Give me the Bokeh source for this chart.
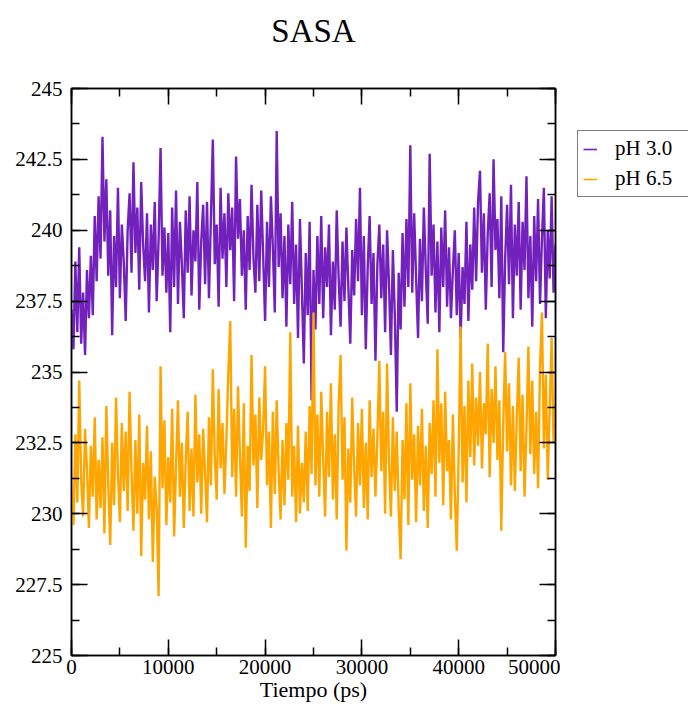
from bokeh.plotting import figure
from bokeh.layouts import row
from bokeh.models import (Legend, LegendItem, LinearAxis, SingleIntervalTicker,
                          CustomJSTickFormatter, Range1d, ColumnDataSource)
from bokeh.embed import file_html
from bokeh.resources import INLINE

# ---- data (one value every 200 ps) ----
time_start = 0
time_step = 200

sasa_ph30 = [
    237.2, 235.8, 238.9, 236.4, 239.4, 236.0, 237.8, 235.6, 238.6, 236.9,
    239.1, 237.0, 240.5, 238.2, 241.2, 239.0, 243.3, 239.6, 241.8, 238.4,
    240.7, 236.3, 239.8, 238.0, 241.5, 237.6, 240.2, 238.9, 236.8, 240.0,
    241.3, 238.5, 242.4, 239.2, 240.8, 237.9, 241.7, 239.5, 238.2, 240.6,
    237.1, 240.2, 238.6, 241.0, 237.5, 239.7, 242.9, 238.4, 240.1, 237.8,
    239.9, 236.4, 240.8, 238.0, 241.4, 237.4, 240.3, 238.8, 236.9, 240.7,
    238.5, 241.2, 237.7, 240.0, 238.9, 241.7, 237.2, 239.6, 240.9, 238.1,
    241.0, 237.6, 240.4, 243.2, 238.8, 240.2, 237.3, 241.5, 239.0, 240.6,
    238.0, 241.3, 239.3, 240.8, 237.5, 242.6, 239.7, 241.1, 238.4, 240.0,
    237.2, 240.5, 238.6, 241.6, 239.0, 237.8, 240.9, 238.2, 241.4, 239.1,
    236.8, 240.3, 238.0, 241.2, 239.4, 237.1, 243.5, 238.7, 240.6, 237.6,
    239.8, 236.6, 240.2, 238.1, 241.0, 237.4, 239.5, 236.2, 240.4, 237.9,
    235.3, 239.2, 237.0, 240.3, 234.0, 238.6, 236.5, 239.8, 237.4, 240.5,
    236.9, 239.4, 238.0, 240.2, 236.3, 238.9, 237.2, 240.7, 238.3, 236.6,
    239.6, 237.5, 240.1, 238.0, 236.0, 239.3, 237.7, 240.4, 238.2, 241.5,
    237.0, 239.8, 235.8, 238.7, 240.5, 237.4, 239.2, 235.4, 238.8, 240.2,
    237.6, 239.5, 236.4, 240.0, 238.1, 235.6, 239.3, 237.0, 233.6, 238.5,
    236.5, 239.9, 237.3, 240.4, 238.0, 243.0, 237.8, 240.6, 238.3, 236.2,
    239.7, 237.5, 240.8, 238.6, 236.7, 242.7, 238.4, 240.2, 237.1, 239.6,
    236.4, 240.1, 238.0, 240.7, 237.3, 239.4, 236.9, 238.6, 240.0, 237.0,
    239.2, 236.2, 238.7, 237.4, 240.3, 236.8, 239.5, 237.9, 240.8, 238.2,
    241.0, 242.1, 238.5, 240.6, 237.2, 239.9, 241.3, 238.0, 242.5, 239.3,
    240.4, 237.6, 241.2, 235.7, 239.0, 240.9, 238.1, 241.6, 236.9, 240.2,
    238.4, 241.0, 237.2, 240.3, 238.6, 241.9, 237.6, 239.8, 236.6, 240.5,
    238.2, 241.1, 237.4, 239.7, 241.5, 236.9, 240.0, 238.3, 241.2, 237.8,
    239.5,
]

sasa_ph65 = [
    230.9, 229.6, 232.8, 230.4, 234.7, 231.2, 229.9, 233.0, 231.6, 229.5,
    232.4, 230.6, 233.4, 229.8, 231.9, 230.2, 232.7, 229.3, 233.8, 231.0,
    228.9, 232.5, 230.3, 234.1, 231.4, 229.7, 233.2, 230.8, 232.9, 230.1,
    234.3, 231.5, 229.4, 232.6, 230.0, 233.5, 228.5, 231.8, 230.5, 233.1,
    229.8, 232.2, 228.3, 231.3, 230.2, 227.1, 235.2, 230.9, 233.3, 229.6,
    232.0, 230.4, 233.7, 229.2, 231.7, 234.0, 230.6, 232.5, 229.5, 231.9,
    233.6, 230.1, 232.3, 229.9, 234.2, 231.1, 232.8, 230.0, 233.0, 231.4,
    229.7, 233.4, 231.0, 235.1, 232.0, 230.5, 234.4, 231.6, 233.2, 230.7,
    232.6, 235.0, 236.8, 231.3, 233.7, 230.6, 234.5, 232.1, 229.9, 233.9,
    228.8, 232.4, 230.8, 235.6, 231.7, 233.5, 230.2, 234.1, 231.9, 233.0,
    235.2, 231.0, 232.9, 229.5, 233.6, 230.7, 234.0, 231.5, 229.8, 232.6,
    230.3, 233.2, 231.2, 236.4, 230.6, 232.4, 229.7, 233.1, 230.0, 231.8,
    230.4, 232.9, 230.1, 233.8, 231.4, 237.1, 231.0, 233.5, 230.6, 234.3,
    231.9, 229.9, 233.6, 231.3, 234.6, 230.5, 232.8, 229.8, 233.9, 235.6,
    231.2, 233.4, 228.7, 232.3, 230.4, 234.1, 231.6, 229.9, 233.2, 231.0,
    233.7, 230.2, 232.5, 229.8, 234.0, 231.3, 233.0, 230.6, 232.7, 235.4,
    231.5, 233.6, 230.0, 235.3, 231.8, 229.9, 233.4, 230.8, 232.9, 230.2,
    228.4, 232.6, 230.5, 233.9, 229.6, 234.6, 231.2, 232.8, 229.7, 233.1,
    231.0, 233.7, 230.1, 232.4, 229.5, 233.2, 231.4, 234.0, 230.6, 235.8,
    231.8, 233.9, 230.3, 234.3, 231.5, 232.6, 229.8, 233.5, 230.7, 228.7,
    232.2, 236.6, 231.1, 233.8, 230.4, 234.7, 232.0, 235.3, 231.7, 234.1,
    232.4, 235.0, 231.6, 233.9, 232.8, 236.0, 231.3, 234.4, 232.5, 235.2,
    231.9, 234.0, 229.4, 233.2, 235.7, 232.2, 234.6, 231.0, 233.8, 230.8,
    233.4, 235.5, 231.5, 234.2, 230.6, 233.0, 235.9, 232.1, 234.7, 231.4,
    233.6, 230.9, 235.2, 237.1, 232.3, 234.9, 231.2, 233.7, 236.2, 232.5,
    233.9,
]

time_ps = [time_start + i * time_step for i in range(len(sasa_ph30))]

series_labels = ["pH 3.0", "pH 6.5"]
series_colors = ["#7221BC", "#FFA500"]

x_ticks_interval = 10000
y_ticks_interval = 2.5

FONT = "Liberation Serif"
H = 704
LW = 2.4

p = figure(width=560, height=H, output_backend="svg", toolbar_location=None,
           x_range=Range1d(0, 50000), y_range=Range1d(225, 245),
           min_border_left=71, min_border_right=5, min_border_bottom=40,
           min_border_top=0)

src = ColumnDataSource(dict(t=time_ps, a=sasa_ph30, b=sasa_ph65))
p.line("t", "a", source=src, line_color=series_colors[0], line_width=LW)
p.line("t", "b", source=src, line_color=series_colors[1], line_width=LW)

p.title.text = "SASA"
p.title.align = "center"
p.title.text_font = FONT
p.title.text_font_size = "33px"
p.title.text_font_style = "normal"
p.title.text_color = "black"
p.title.offset = 0
p.title.standoff = 21

p.grid.visible = False
p.outline_line_color = "black"
p.outline_line_width = 1.5
p.background_fill_color = "white"
p.border_fill_color = "white"

fmt = CustomJSTickFormatter(code="return String(Math.round(tick*100)/100);")
blank_fmt = CustomJSTickFormatter(code="return '';")

def style_axis(ax, labels=True):
    ax.axis_line_color = "black"
    ax.axis_line_width = 1.5
    ax.major_tick_in = 16
    ax.major_tick_out = 0
    ax.minor_tick_in = 8
    ax.minor_tick_out = 0
    ax.major_tick_line_color = "black"
    ax.minor_tick_line_color = "black"
    ax.major_tick_line_width = 1.5
    ax.minor_tick_line_width = 1.5
    ax.major_label_text_font = FONT
    ax.major_label_text_font_size = "21px"
    ax.major_label_text_color = "black"
    ax.axis_label_text_font = FONT
    ax.axis_label_text_font_size = "22px"
    ax.axis_label_text_font_style = "normal"
    ax.axis_label_text_color = "black"
    if labels:
        ax.formatter = fmt
    else:
        ax.formatter = blank_fmt
        ax.major_label_standoff = 0

xt = SingleIntervalTicker(interval=x_ticks_interval, num_minor_ticks=2)
yt = SingleIntervalTicker(interval=y_ticks_interval, num_minor_ticks=2)

p.xaxis.ticker = xt
p.yaxis.ticker = yt
style_axis(p.xaxis[0])
style_axis(p.yaxis[0])
p.xaxis.axis_label = "Tiempo (ps)"
p.xaxis.major_label_standoff = 4
p.xaxis.axis_label_standoff = 0
p.yaxis.major_label_standoff = 9

top_ax = LinearAxis(ticker=xt)
right_ax = LinearAxis(ticker=yt)
style_axis(top_ax, labels=False)
style_axis(right_ax, labels=False)
p.add_layout(top_ax, "above")
p.add_layout(right_ax, "right")

# invisible axis used only as a gap between the frame and the title
gap_ax = LinearAxis(ticker=xt, formatter=blank_fmt,
                    axis_line_color=None, major_tick_line_color=None,
                    minor_tick_line_color=None, major_tick_in=0,
                    major_tick_out=29, minor_tick_in=0, minor_tick_out=0,
                    major_label_standoff=0)
p.add_layout(gap_ax, "above")

# ---- legend panel to the right of the plot (its frame lines up with the plot's) ----
q = figure(width=128, height=H, output_backend="svg", toolbar_location=None,
           x_axis_location=None, y_axis_location=None,
           x_range=Range1d(0, 1), y_range=Range1d(0, 1),
           min_border=0)
q.outline_line_color = None
q.grid.visible = False
q.background_fill_color = "white"
q.border_fill_color = "white"
# same series, outside this panel's ranges: only their legend glyphs show
k1 = q.line("t", "a", source=src, line_color=series_colors[0], line_width=1.6)
k2 = q.line("t", "b", source=src, line_color=series_colors[1], line_width=1.6)

legend = Legend(items=[LegendItem(label=series_labels[0], renderers=[k1]),
                       LegendItem(label=series_labels[1], renderers=[k2])],
                location=(17, 458))
legend.label_text_font = FONT
legend.label_text_font_size = "21px"
legend.label_text_color = "black"
legend.border_line_color = "black"
legend.border_line_width = 1.5
legend.padding = 5
legend.spacing = 5
legend.glyph_width = 14
legend.glyph_height = 22
legend.label_height = 22
legend.label_width = 69
legend.label_standoff = 18
legend.margin = 0
legend.background_fill_alpha = 1
q.add_layout(legend, "center")

open("out.html", "w").write(file_html(row(p, q), INLINE))
